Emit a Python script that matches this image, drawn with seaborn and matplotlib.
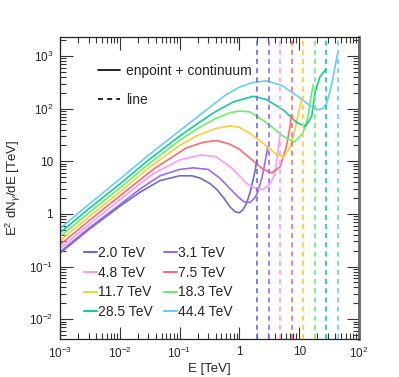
import numpy as np
import pandas as pd
import seaborn as sns
import matplotlib.pyplot as plt
from matplotlib.lines import Line2D
from matplotlib.ticker import LogLocator, NullFormatter

# dark matter masses (TeV) and line colours
masses = [2.0, 3.1, 4.8, 7.5, 11.7, 18.3, 28.5, 44.4]
labels = ["2.0 TeV", "3.1 TeV", "4.8 TeV", "7.5 TeV", "11.7 TeV", "18.3 TeV", "28.5 TeV", "44.4 TeV"]
colors = ["#6b6bd0", "#9c66ff", "#ff99ff", "#ff6b6b", "#ffcc33", "#66f266", "#11cc99", "#66ccff"]

# endpoint + continuum spectra: E [TeV], E^2 dN/dE [TeV]
e_20 = [0.001, 0.003, 0.01, 0.022, 0.047, 0.1, 0.16, 0.22, 0.32, 0.42, 0.55, 0.7, 0.85, 1.0, 1.15, 1.32, 1.5, 1.7, 1.85, 1.95]
v_20 = [0.18, 0.5, 1.4, 2.6, 4.3, 5.3, 5.3, 4.8, 3.8, 2.9, 2.0, 1.35, 1.1, 1.05, 1.2, 1.6, 2.5, 4.5, 7.0, 10.6]
e_31 = [0.001, 0.003, 0.01, 0.022, 0.047, 0.1, 0.17, 0.3, 0.47, 0.6, 0.79, 1.0, 1.2, 1.5, 1.8, 2.0, 2.4, 2.7, 3.0]
v_31 = [0.19, 0.53, 1.5, 3.0, 5.3, 7.0, 7.5, 7.0, 4.8, 3.6, 2.6, 2.0, 1.7, 1.65, 2.0, 2.5, 5.0, 10, 19]
e_48 = [0.001, 0.003, 0.01, 0.036, 0.1, 0.23, 0.4, 0.7, 1.0, 1.32, 1.94, 2.5, 3.2, 3.9, 4.4, 4.8]
v_48 = [0.22, 0.62, 1.85, 5.8, 10.6, 13.2, 12.3, 7.9, 5.3, 3.8, 3.0, 2.95, 3.6, 5.5, 15, 36]
e_75 = [0.001, 0.003, 0.01, 0.036, 0.13, 0.25, 0.42, 0.7, 1.0, 1.5, 2.5, 3.5, 4.8, 6.1, 7.0, 7.4]
v_75 = [0.26, 0.73, 2.2, 7.0, 18, 23, 24.8, 21, 17, 11.5, 7.0, 6.0, 7.9, 19, 45, 76]
e_117 = [0.001, 0.003, 0.01, 0.03, 0.1, 0.2, 0.4, 0.7, 1.0, 1.5, 2.5, 4.0, 5.4, 7.0, 8.5, 10.0, 11.2]
v_117 = [0.31, 0.87, 2.6, 7.4, 20, 31, 42, 47, 44, 34, 22, 14, 12, 18, 40, 95, 160]
e_183 = [0.001, 0.003, 0.01, 0.03, 0.1, 0.2, 0.4, 0.7, 1.0, 1.5, 2.8, 5.4, 8.2, 11.5, 14, 15.5, 17.1]
v_183 = [0.37, 1.04, 3.1, 8.8, 25, 42, 65, 84, 90, 87, 55, 30, 23, 34, 70, 150, 284]
e_285 = [0.001, 0.003, 0.01, 0.03, 0.1, 0.2, 0.4, 0.8, 1.7, 2.8, 5.4, 9.0, 12.7, 16.2, 18.4, 22.2, 27.5]
v_285 = [0.44, 1.24, 3.7, 10.5, 30, 52, 88, 135, 172, 150, 95, 55, 46, 71, 200, 400, 550]
e_444 = [0.001, 0.003, 0.01, 0.03, 0.1, 0.3, 0.6, 1.0, 1.6, 2.8, 5.0, 10, 15, 20, 25, 29, 33, 37, 43.4]
v_444 = [0.53, 1.5, 4.6, 13, 38, 100, 185, 255, 310, 337, 280, 165, 115, 95, 100, 130, 220, 400, 1050]

spec_e = [e_20, e_31, e_48, e_75, e_117, e_183, e_285, e_444]
spec_v = [v_20, v_31, v_48, v_75, v_117, v_183, v_285, v_444]

frames = []
for lab, e, v in zip(labels, spec_e, spec_v):
    frames.append(pd.DataFrame({"E": e, "flux": v, "mass": lab}))
df = pd.concat(frames, ignore_index=True)

sns.set_style("ticks")
plt.rcParams["font.family"] = ["Liberation Sans", "DejaVu Sans"]
plt.rcParams["mathtext.fontset"] = "custom"
plt.rcParams["mathtext.rm"] = "Liberation Sans"
plt.rcParams["mathtext.it"] = "Liberation Sans:italic"

fig = plt.figure(figsize=(3.99, 3.77), dpi=100)
ax = fig.add_axes([0.1504, 0.1008, 0.7493, 0.8011])
ax.set_xscale("log")
ax.set_yscale("log")

palette = dict(zip(labels, colors))
sns.lineplot(data=df, x="E", y="flux", hue="mass", palette=palette,
             estimator=None, sort=False, legend=False, lw=1.2, ax=ax)

# gamma-ray line at the endpoint
for m, c in zip(masses, colors):
    ax.axvline(m, color=c, ls=(0, (3, 2.5)), lw=1.2)

ax.set_xlim(1e-3, 1e2)
ax.set_ylim(4.2e-3, 2.3e3)

xt = [1e-3, 1e-2, 1e-1, 1, 10, 100]
ax.set_xticks(xt, [r"$10^{-3}$", r"$10^{-2}$", r"$10^{-1}$", "1", "10", r"$10^{2}$"])
yt = [1e-2, 1e-1, 1, 10, 100, 1000]
ax.set_yticks(yt, [r"$10^{-2}$", r"$10^{-1}$", "1", "10", r"$10^{2}$", r"$10^{3}$"])
ax.xaxis.set_minor_locator(LogLocator(base=10, subs=np.arange(2, 10), numticks=20))
ax.yaxis.set_minor_locator(LogLocator(base=10, subs=np.arange(2, 10), numticks=20))
ax.xaxis.set_minor_formatter(NullFormatter())
ax.yaxis.set_minor_formatter(NullFormatter())
ax.tick_params(which="both", direction="in", top=True, right=True, labelsize=8.5, width=0.8, color="#333333")
ax.tick_params(which="major", length=9, pad=5)
ax.tick_params(which="minor", length=4.5)
for s in ax.spines.values():
    s.set_linewidth(0.9)
ax.spines["right"].set_linewidth(2)
ax.spines["right"].set_color("#666666")

ax.set_xlabel("E [TeV]", fontsize=9.5, labelpad=1)
ax.set_ylabel(r"E$^{2}$ dN$_{\gamma}$/dE [TeV]", fontsize=9.5, labelpad=4)

style_handles = [Line2D([], [], color="black", lw=1.2),
                 Line2D([], [], color="black", lw=1.2, ls=(0, (3, 2.5)))]
leg1 = ax.legend(style_handles, ["enpoint + continuum", "line"], loc="upper left",
                 bbox_to_anchor=(0.085, 0.952), frameon=False, fontsize=10,
                 handlelength=1.6, handletextpad=0.4, labelspacing=1.05)
ax.add_artist(leg1)

# row-wise ordering like the reference: two entries per row
order = [0, 2, 4, 6, 1, 3, 5, 7]
mass_handles = [Line2D([], [], color=colors[i], lw=1.5) for i in order]
ax.legend(mass_handles, [labels[i] for i in order], loc="lower left", ncol=2,
          bbox_to_anchor=(0.04, 0.025), frameon=False, fontsize=10,
          handlelength=0.9, handletextpad=0.1, columnspacing=0.8, labelspacing=0.4)

fig.savefig("out.png", dpi=100)
